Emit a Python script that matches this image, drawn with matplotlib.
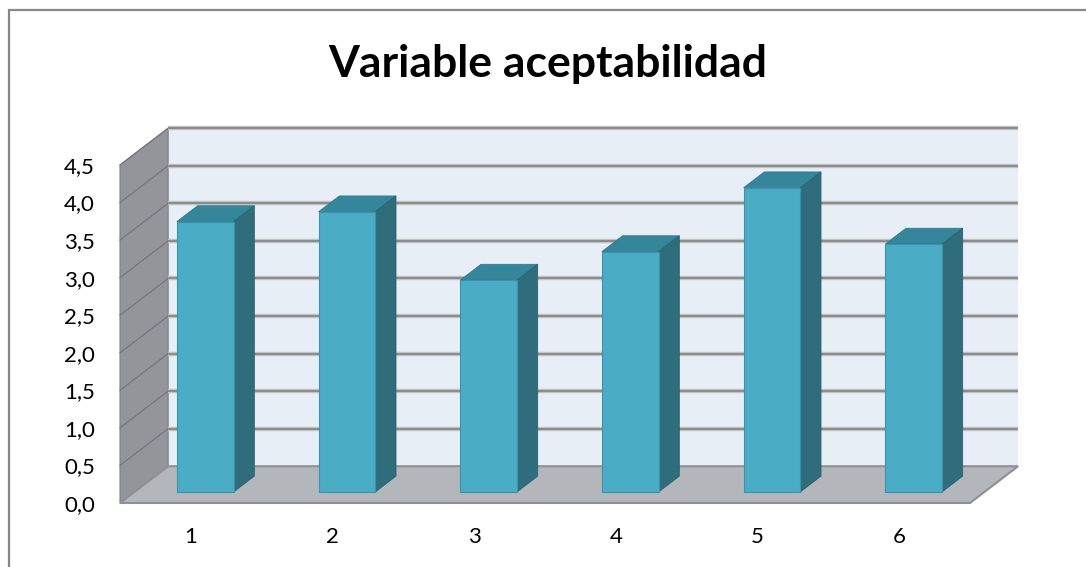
import matplotlib
matplotlib.use("Agg")
import matplotlib.pyplot as plt
from matplotlib.patches import Polygon, Rectangle
import numpy as np

# Chart data
categories = ["1", "2", "3", "4", "5", "6"]
values = [3.60, 3.73, 2.82, 3.20, 4.05, 3.30]
y_ticks = [0.0, 0.5, 1.0, 1.5, 2.0, 2.5, 3.0, 3.5, 4.0, 4.5]
y_tick_labels = ["0,0", "0,5", "1,0", "1,5", "2,0", "2,5", "3,0", "3,5", "4,0", "4,5"]
title = "Variable aceptabilidad"

plt.rcParams["font.family"] = ["Lato", "DejaVu Sans"]

W, H = 1086, 567
fig = plt.figure(figsize=(W / 100, H / 100), dpi=100)
fig.patch.set_facecolor("white")

# chart-area border
fig.add_artist(Rectangle((8.5 / W, -0.1), 1.2, (1 - 9.5 / H) + 0.1,
                         transform=fig.transFigure, fill=False,
                         edgecolor="#878787", linewidth=1.6))

# front plane of the 3-D box
left_px, right_px, bottom_px, top_px = 120, 970, 503, 165
ax = fig.add_axes([left_px / W, 1 - bottom_px / H,
                   (right_px - left_px) / W, (bottom_px - top_px) / H])
n = len(categories)
ymax = 4.5
ax.set_xlim(0, n)
ax.set_ylim(0, ymax)
ax.set_facecolor("none")
for s in ax.spines.values():
    s.set_visible(False)

# oblique depth offset (full depth) in data units
DX, DY = 0.34, 0.49

# back wall
ax.add_patch(Polygon([(DX, DY), (n + DX, DY), (n + DX, ymax + DY), (DX, ymax + DY)],
                     closed=True, facecolor="#E8EEF6", edgecolor="none",
                     clip_on=False, zorder=1))
# side wall
ax.add_patch(Polygon([(0, 0), (DX, DY), (DX, ymax + DY), (0, ymax)],
                     closed=True, facecolor="#929599", edgecolor="#7E8186",
                     linewidth=0.8, clip_on=False, zorder=1.5))
# floor
ax.add_patch(Polygon([(0, 0), (n, 0), (n + DX, DY), (DX, DY)],
                     closed=True, facecolor="#B3B6BA", edgecolor="#8E9094",
                     linewidth=1.5, clip_on=False, zorder=1.6))

# gridlines on back wall and side wall
for v in y_ticks[1:]:
    ax.plot([DX, n + DX], [v + DY, v + DY], color="#C8C9CB", linewidth=3.2,
            solid_capstyle="butt", clip_on=False, zorder=2)
    ax.plot([DX, n + DX], [v + DY, v + DY], color="#8C8C8C", linewidth=1.6,
            solid_capstyle="butt", clip_on=False, zorder=2.1)
    ax.plot([0, DX], [v, v + DY], color="#74777C", linewidth=0.9,
            clip_on=False, zorder=2)

# bars: front faces via ax.bar, top and side faces as projected polygons
bw = 0.40
f0, f1 = 0.30, 0.73
centers = np.arange(n) + 0.5
xf = centers + f0 * DX
yb = f0 * DY
ax.bar(xf, values, width=bw, bottom=yb, color="#4BACC6",
       edgecolor="#3B93AB", linewidth=0.8, zorder=5, clip_on=False)
ddx, ddy = (f1 - f0) * DX, (f1 - f0) * DY
for x, v in zip(xf, values):
    xl, xr = x - bw / 2, x + bw / 2
    yt = yb + v
    ax.add_patch(Polygon([(xl, yt), (xr, yt), (xr + ddx, yt + ddy), (xl + ddx, yt + ddy)],
                         closed=True, facecolor="#35869A", edgecolor="#2F7A8D",
                         linewidth=0.6, clip_on=False, zorder=4))
    ax.add_patch(Polygon([(xr, yb), (xr + ddx, yb + ddy), (xr + ddx, yt + ddy), (xr, yt)],
                         closed=True, facecolor="#2F6D7C", edgecolor="#2A6270",
                         linewidth=0.6, clip_on=False, zorder=4))

# axis labels
ax.set_yticks(y_ticks)
ax.set_yticklabels(y_tick_labels)
ax.set_xticks(centers)
ax.set_xticklabels(categories)
ax.tick_params(axis="y", length=0, pad=18.0, labelsize=16, labelcolor="black")
ax.tick_params(axis="x", length=0, pad=17.0, labelsize=16, labelcolor="black")

fig.text(548 / W, 1 - 64 / H, title, ha="center", va="center",
         fontsize=32, fontweight="bold", color="black")

fig.savefig("out.png", dpi=100, facecolor="white")
